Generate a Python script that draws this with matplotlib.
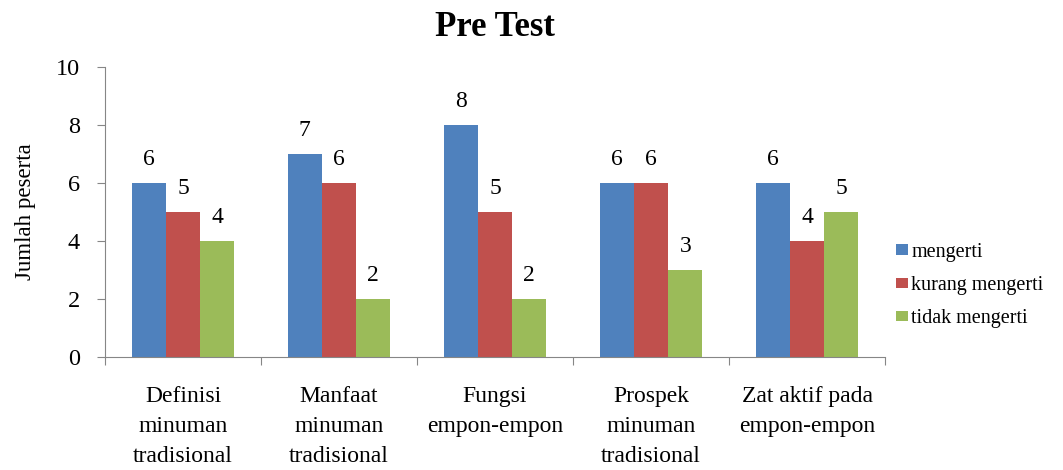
import matplotlib
matplotlib.use("Agg")
import matplotlib.pyplot as plt
import numpy as np

categories = ["Definisi\nminuman\ntradisional", "Manfaat\nminuman\ntradisional",
              "Fungsi\nempon-empon", "Prospek\nminuman\ntradisional",
              "Zat aktif pada\nempon-empon"]
series_names = ["mengerti", "kurang mengerti", "tidak mengerti"]
mengerti = [6, 7, 8, 6, 6]
kurang = [5, 6, 5, 6, 4]
tidak = [4, 2, 2, 3, 5]
colors = ["#4F81BD", "#C0504D", "#9BBB59"]
yticks = [0, 2, 4, 6, 8, 10]

plt.rcParams['font.family'] = ['Liberation Serif', 'DejaVu Serif']

fig = plt.figure(figsize=(10.63, 4.70), dpi=100)
ax = fig.add_axes([105/1063, 1 - 357/470, 780/1063, 290/470])

x = np.arange(len(categories))
w = 0.22
for i, (vals, name, c) in enumerate(zip([mengerti, kurang, tidak], series_names, colors)):
    pos = x + (i - 1) * w
    ax.bar(pos, vals, width=w, color=c, label=name)
    for p, v in zip(pos, vals):
        ax.text(p, v + 0.62, str(v), ha='center', va='baseline', fontsize=17)

ax.set_xlim(-0.5, len(categories) - 0.5)
ax.set_ylim(0, 10)
ax.set_yticks(yticks)
ax.tick_params(axis='y', labelsize=17.5, length=6, color='#868686', pad=12)

ax.set_xticks(np.arange(len(categories) + 1) - 0.5)
ax.set_xticklabels([])
ax.set_xticks(x, minor=True)
ax.set_xticklabels(categories, minor=True, fontsize=17, linespacing=1.55)
ax.tick_params(axis='x', which='major', length=6, color='#868686')
ax.tick_params(axis='x', which='minor', length=0, pad=21)

for s in ['top', 'right']:
    ax.spines[s].set_visible(False)
for s in ['left', 'bottom']:
    ax.spines[s].set_color('#868686')

ax.set_ylabel("Jumlah peserta", fontsize=16.5, labelpad=14)
ax.set_title("Pre Test", fontsize=25, fontweight='bold', pad=22)

fig.legend(loc='upper left', bbox_to_anchor=(896/1063, 1 - 243/470), frameon=False,
           fontsize=14.5, handlelength=0.6, handleheight=0.45, handletextpad=0.15,
           labelspacing=0.7, borderaxespad=0, borderpad=0)

fig.savefig("out.png", dpi=100)
